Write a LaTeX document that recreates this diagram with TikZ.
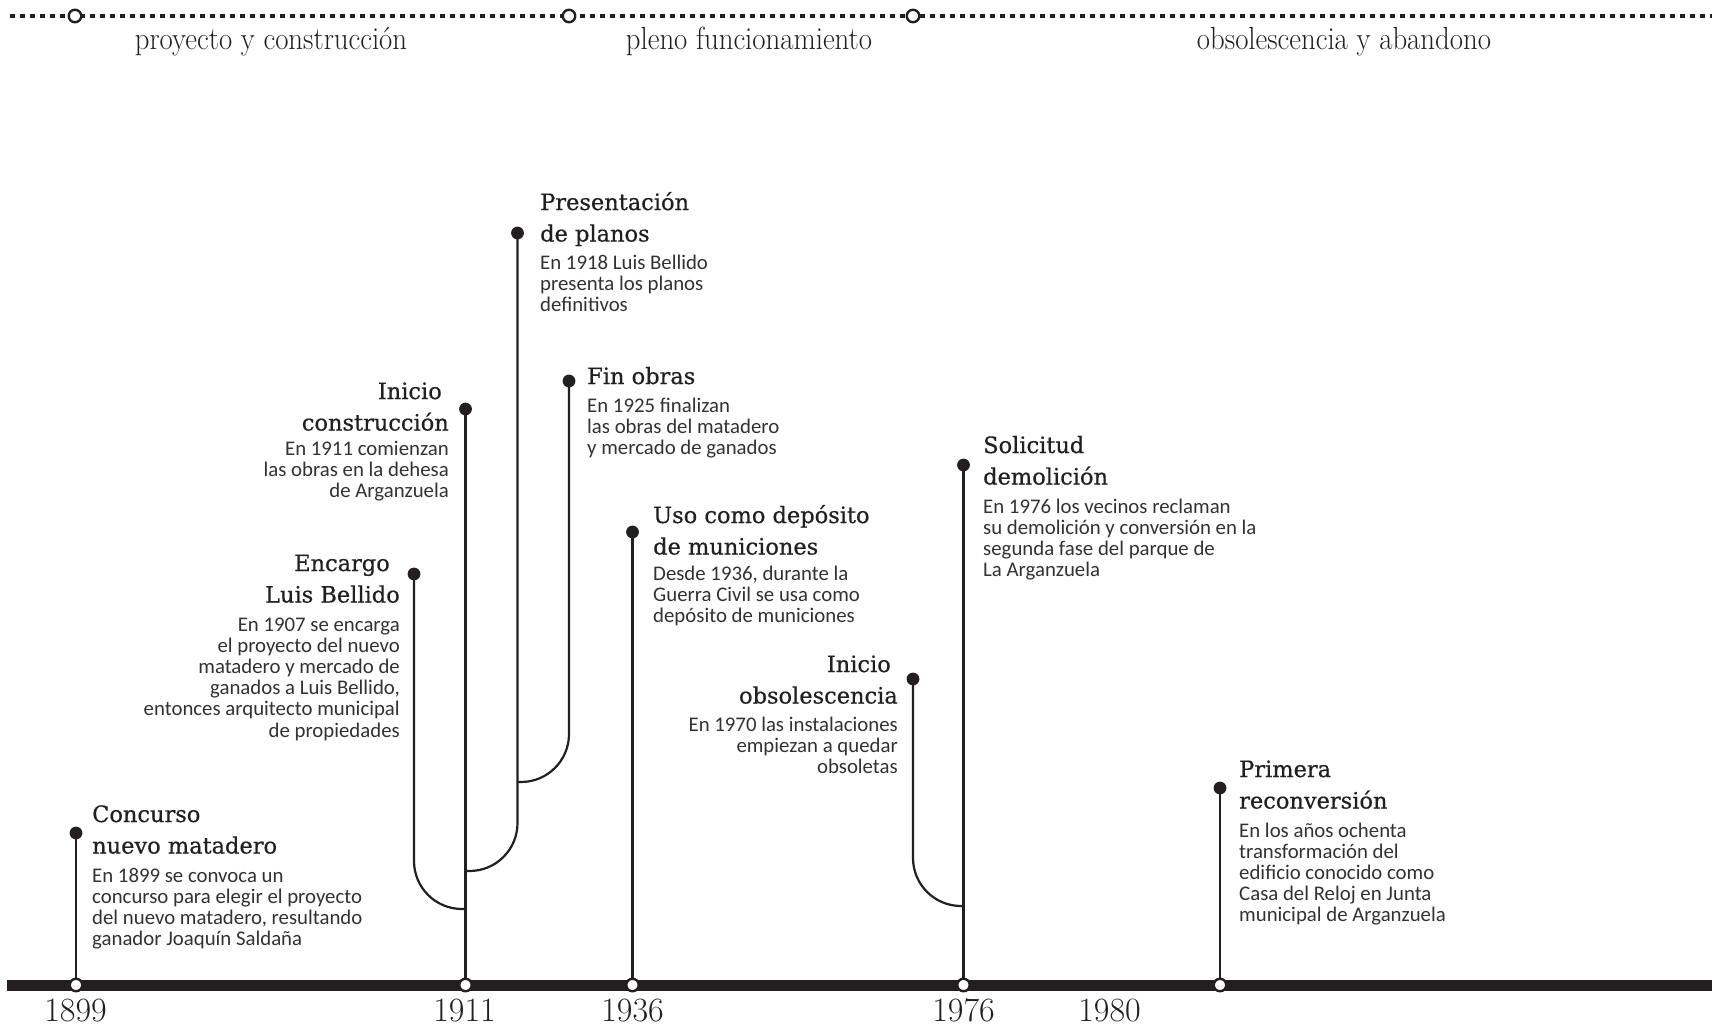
\documentclass[tikz,border=0pt]{standalone}
\usepackage{fontspec}
\usepackage{graphicx}
\newfontfamily\ttlfont[FakeBold=0.6]{DejaVu Serif}
\newfontfamily\bdyfont{Carlito}
\definecolor{ink}{HTML}{231F20}
\newcommand\Lft[1]{\vtop{\lineskiplimit=-100pt\relax\halign{##\hfil\cr#1\crcr}}}
\newcommand\Rgt[1]{\vtop{\lineskiplimit=-100pt\relax\halign{\hfil##\cr#1\crcr}}}
\pgfdeclarelayer{paper}
\pgfdeclarelayer{bg}
\pgfsetlayers{paper,bg,main}
\tikzset{
  ttl/.style={inner sep=0pt, text=ink, font=\ttlfont\fontsize{22.5}{31.5}\selectfont},
  bdy/.style={inner sep=0pt, text=ink!92, font=\bdyfont\fontsize{20.8}{21.2}\selectfont},
  yr/.style={inner sep=0pt, text=ink, anchor=base, font=\fontsize{34}{36}\selectfont},
  phase/.style={inner sep=0pt, text=ink, anchor=base, font=\fontsize{32}{34}\selectfont},
  dot/.style={circle, fill=ink, inner sep=0pt, minimum size=12.8pt},
  ring/.style={circle, fill=white, draw=ink, line width=2.4pt, minimum size=12.5pt, inner sep=0pt},
  stem/.style={draw=ink, line width=2.5pt},
  curve/.style={draw=ink, line width=2.2pt, rounded corners=48pt},
}
\begin{document}
\begin{tikzpicture}[x=1pt,y=-1pt]
\begin{pgfonlayer}{paper}
\fill[white] (0,0) rectangle (1712,1025);
\end{pgfonlayer}
\useasboundingbox (0,0) rectangle (1712,1025);

% ---- top phase line ----
\coordinate (topL) at (10,16);
\coordinate (topR) at (1712,16);
\node[ring] (t1) at (75,16) {};
\node[ring] (t2) at (569,16) {};
\node[ring] (t3) at (913,16) {};
\begin{pgfonlayer}{bg}
\draw[ink, line width=4.2pt, dash pattern=on 4.5pt off 5.5pt] (topL) -- (topR);
\end{pgfonlayer}
\node[phase] (ph1) at (271,49) {\scalebox{0.9}[1]{proyecto y construcción}};
\node[phase] (ph2) at (749,49) {\scalebox{0.9}[1]{pleno funcionamiento}};
\node[phase] (ph3) at (1344,49) {\scalebox{0.9}[1]{obsolescencia y abandono}};

% ---- main bar ----
\coordinate (barL) at (7,985);
\coordinate (barR) at (1712,985);
\begin{pgfonlayer}{bg}
\draw[ink, line width=11pt] (barL) -- (barR);
\end{pgfonlayer}

% ---- rings on the bar ----
\node[ring] (b1899) at (76,985) {};
\node[ring] (b1911) at (465.5,985) {};
\node[ring] (b1936) at (632.5,985) {};
\node[ring] (b1976) at (963.5,985) {};
\node[ring] (bPri) at (1220,985) {};

% ---- event dots ----
\node[dot] (dCon) at (76,833) {};
\node[dot] (dEnc) at (414,574) {};
\node[dot] (dIni) at (465.5,409) {};
\node[dot] (dPre) at (517.5,233) {};
\node[dot] (dFin) at (569,381) {};
\node[dot] (dUso) at (632.5,532) {};
\node[dot] (dObs) at (913,679) {};
\node[dot] (dSol) at (963.5,465) {};
\node[dot] (dPri) at (1220,788) {};

% junctions
\coordinate (jEnc) at (465.5,909);
\coordinate (jPre) at (465.5,871);
\coordinate (jFin) at (517.5,782);
\coordinate (jObs) at (963.5,906);

\begin{pgfonlayer}{bg}
\draw[stem] (dCon.center) -- (b1899.center);
\draw[stem] (dIni.center) -- (b1911.center);
\draw[stem] (dUso.center) -- (b1936.center);
\draw[stem] (dSol.center) -- (b1976.center);
\draw[stem] (dPri.center) -- (bPri.center);
\draw[curve] (dEnc.center) |- (jEnc);
\draw[curve] (dPre.center) |- (jPre);
\draw[curve] (dFin.center) |- (jFin);
\draw[curve] (dObs.center) |- (jObs);
\end{pgfonlayer}

% ---- years ----
\node[yr] (y1899) at (75.5,1021) {1899};
\node[yr] (y1911) at (464.5,1021) {1911};
\node[yr] (y1936) at (632.5,1021) {1936};
\node[yr] (y1976) at (963.5,1021) {1976};
\node[yr] (y1980) at (1109.5,1021) {1980};

% ---- Concurso ----
\node[ttl, anchor=base west] (tCon) at (92,822) {\Lft{Concurso\cr nuevo matadero}};
\node[bdy, anchor=base west] (xCon) at (92,882) {\Lft{En 1899 se convoca un\cr concurso para elegir el proyecto\cr del nuevo matadero, resultando\cr ganador Joaquín Saldaña}};

% ---- Encargo ----
\node[ttl, anchor=base east] (tEnc) at (400,571) {\Rgt{Encargo\hspace{10pt}\cr Luis Bellido}};
\node[bdy, anchor=base east] (xEnc) at (400,631) {\Rgt{En 1907 se encarga\cr el proyecto del nuevo\cr matadero y mercado de\cr ganados a Luis Bellido,\cr entonces arquitecto municipal\cr de propiedades}};

% ---- Inicio construccion ----
\node[ttl, anchor=base east] (tIni) at (449,399) {\Rgt{Inicio\hspace{7pt}\cr construcción}};
\node[bdy, anchor=base east] (xIni) at (449,455) {\Rgt{En 1911 comienzan\cr las obras en la dehesa\cr de Arganzuela}};

% ---- Presentacion ----
\node[ttl, anchor=base west] (tPre) at (540,210) {\Lft{Presentación\cr de planos}};
\node[bdy, anchor=base west] (xPre) at (540,269) {\Lft{En 1918 Luis Bellido\cr presenta los planos\cr definitivos}};

% ---- Fin obras ----
\node[ttl, anchor=base west] (tFin) at (587,384) {Fin obras};
\node[bdy, anchor=base west] (xFin) at (587,412) {\Lft{En 1925 finalizan\cr las obras del matadero\cr y mercado de ganados}};

% ---- Uso ----
\node[ttl, anchor=base west] (tUso) at (653,523) {\Lft{Uso como depósito\cr de municiones}};
\node[bdy, anchor=base west] (xUso) at (653,580) {\Lft{Desde 1936, durante la\cr Guerra Civil se usa como\cr depósito de municiones}};

% ---- Inicio obsolescencia ----
\node[ttl, anchor=base east] (tObs) at (898,672) {\Rgt{Inicio\hspace{7pt}\cr obsolescencia}};
\node[bdy, anchor=base east] (xObs) at (898,731) {\Rgt{En 1970 las instalaciones\cr empiezan a quedar\cr obsoletas}};

% ---- Solicitud ----
\node[ttl, anchor=base west] (tSol) at (983,453) {\Lft{Solicitud\cr demolición}};
\node[bdy, anchor=base west] (xSol) at (983,513) {\Lft{En 1976 los vecinos reclaman\cr su demolición y conversión en la\cr segunda fase del parque de\cr La Arganzuela}};

% ---- Primera ----
\node[ttl, anchor=base west] (tPri) at (1239,777) {\Lft{Primera\cr reconversión}};
\node[bdy, anchor=base west] (xPri) at (1239,837) {\Lft{En los años ochenta\cr transformación del\cr edificio conocido como\cr Casa del Reloj en Junta\cr municipal de Arganzuela}};

\end{tikzpicture}
\end{document}
